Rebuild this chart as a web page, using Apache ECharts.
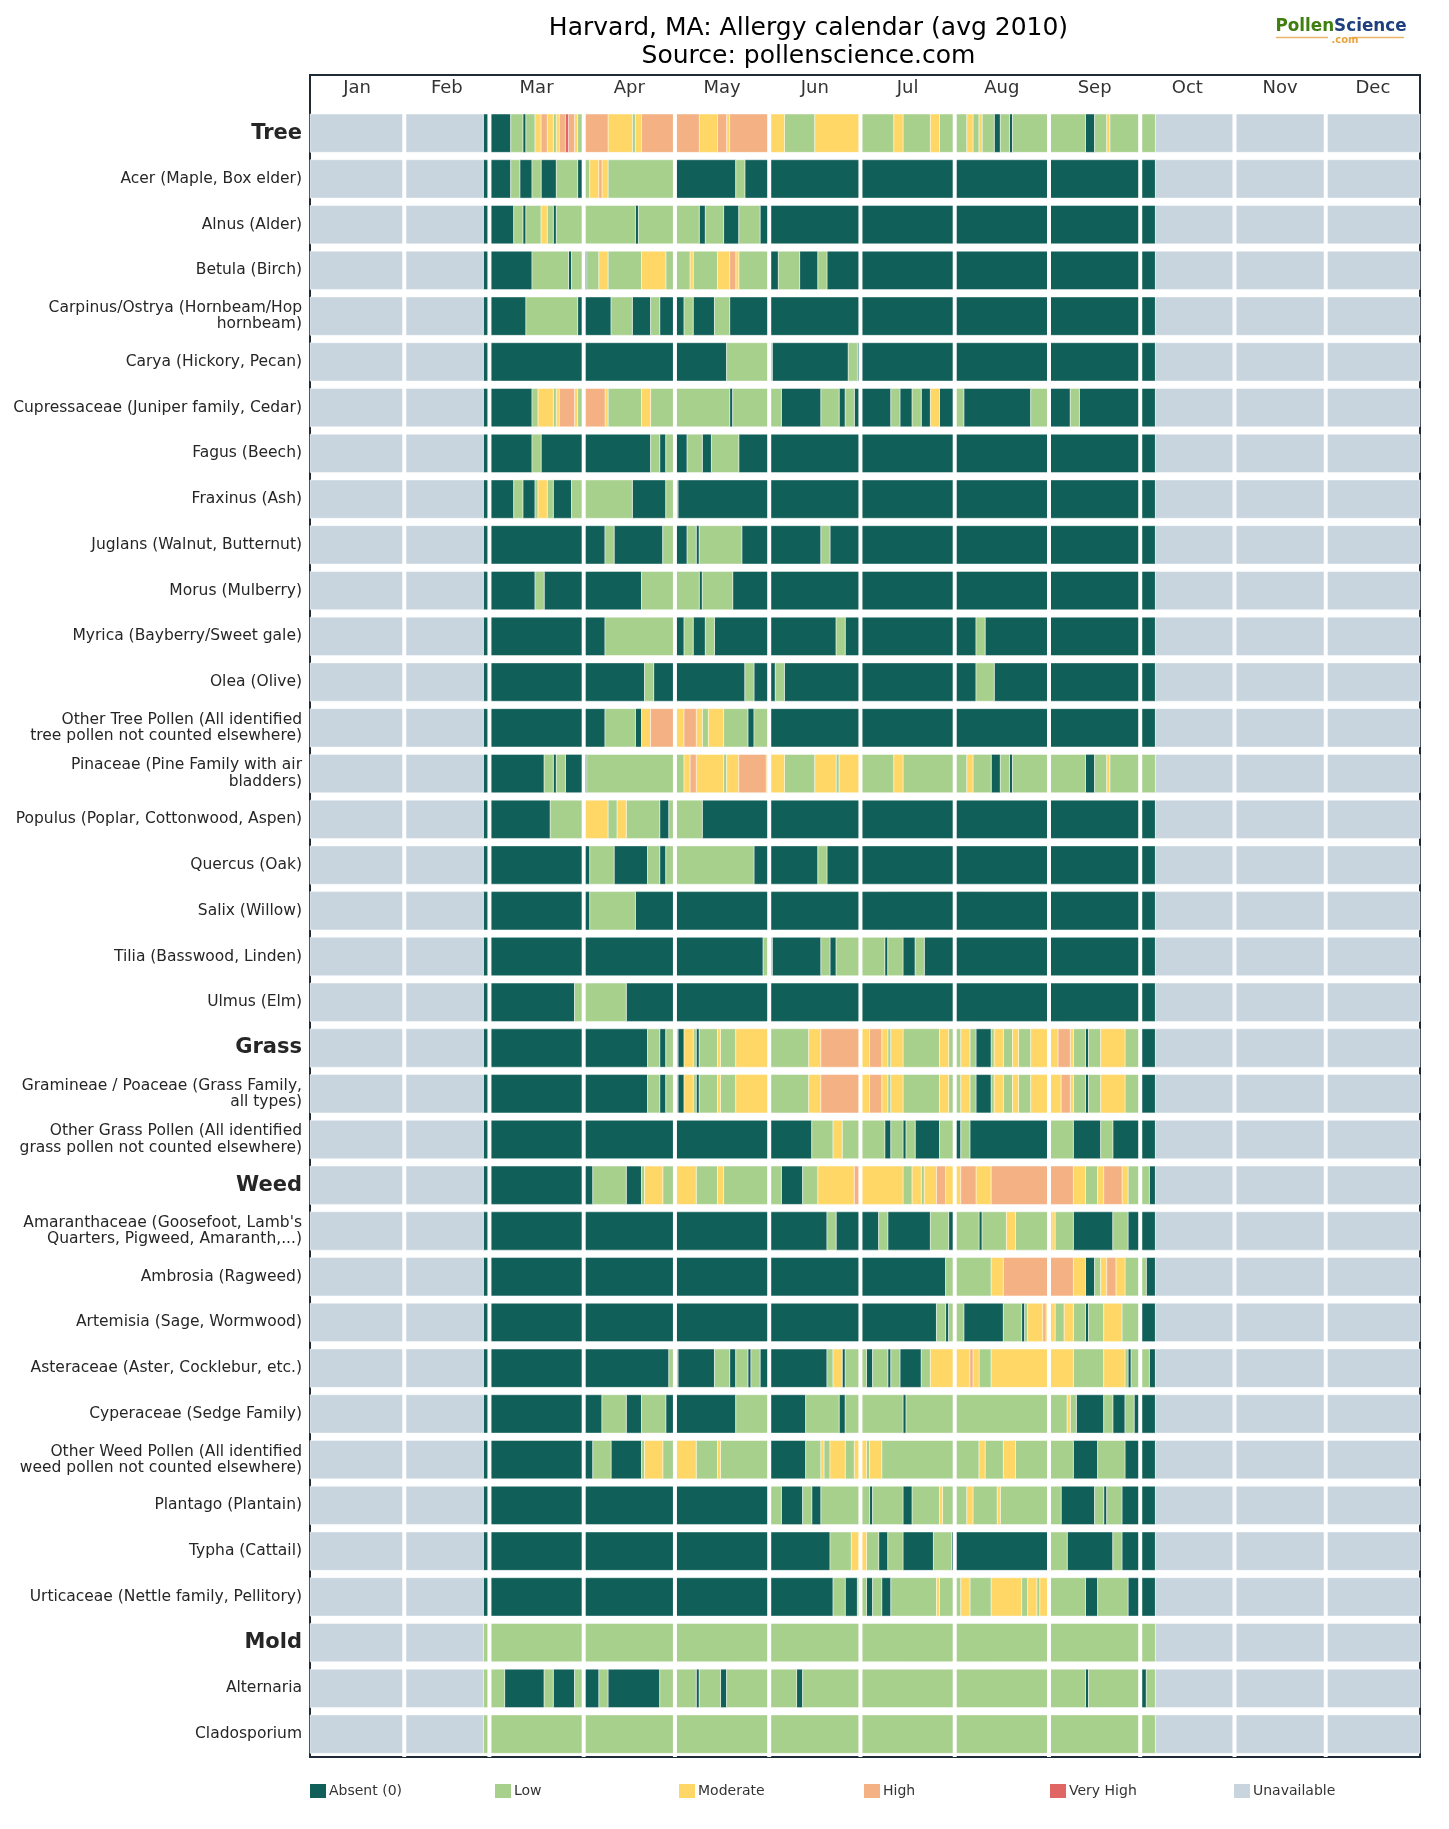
<!DOCTYPE html>
<html>
<head>
<meta charset="utf-8">
<title>Harvard, MA allergy calendar</title>
<style>html,body{margin:0;padding:0;background:#fff}#chart{width:1449px;height:1829px}</style>
<script src="https://cdn.jsdelivr.net/npm/echarts@6/dist/echarts.min.js"></script>
</head>
<body>
<div id="chart"></div>
<script>
// Calendar axis
const monthNames = ['Jan','Feb','Mar','Apr','May','Jun','Jul','Aug','Sep','Oct','Nov','Dec'];
const monthStarts = [0,31,59,90,120,151,181,212,243,273,304,334];
const yearDays = 365;

// Pollen levels
const levelNames = ['Absent (0)','Low','Moderate','High','Very High','Unavailable'];
const levelColors = ['#105F58','#A8D08D','#FFD766','#F4B183','#E06666','#C8D5DF'];
const UNAVAILABLE = 5;
const firstDay = 57;
const lastDay = 278;

// Each taxon: [day the level starts, level], runs until the next entry or lastDay
const tree = [[57,0],[66,1],[70,0],[71,1],[74,2],[76,3],[78,2],[80,1],[81,2],[82,3],[84,4],[85,3],[87,2],[88,1],[90,3],[98,2],[106,1],[107,2],[109,3],[128,2],[134,3],[137,2],[138,3],[151,2],[156,1],[166,2],[181,1],[192,2],[195,1],[204,2],[207,1],[216,2],[218,1],[220,2],[221,1],[225,0],[227,1],[230,0],[231,1],[255,0],[258,1],[262,2],[263,1]];
const acer = [[57,0],[66,1],[69,0],[73,1],[76,0],[81,1],[88,0],[90,1],[92,2],[95,3],[96,2],[98,1],[120,0],[140,1],[143,0]];
const alnus = [[57,0],[67,1],[70,0],[71,1],[76,2],[78,1],[80,0],[81,1],[107,0],[108,1],[128,0],[130,1],[136,0],[141,1],[148,0]];
const betula = [[57,0],[73,1],[85,0],[86,1],[90,0],[91,1],[95,2],[98,1],[109,2],[117,1],[125,2],[126,1],[134,2],[138,3],[140,2],[141,1],[151,0],[154,1],[161,0],[167,1],[170,0]];
const carpinus = [[57,0],[71,1],[88,0],[99,1],[106,0],[112,1],[115,0],[123,1],[126,0],[133,1],[138,0]];
const carya = [[57,0],[137,1],[152,0],[177,1],[180,0]];
const cupressaceae = [[57,0],[73,1],[75,2],[80,1],[81,2],[82,3],[87,2],[88,1],[90,3],[97,2],[98,1],[109,2],[112,1],[138,0],[139,1],[155,0],[168,1],[174,0],[176,1],[179,0],[191,1],[194,0],[198,1],[201,0],[204,2],[207,0],[212,1],[215,0],[237,1],[243,0],[250,1],[253,0]];
const fagus = [[57,0],[73,1],[76,0],[112,1],[115,0],[117,1],[120,0],[124,1],[129,0],[132,1],[141,0]];
const fraxinus = [[57,0],[67,1],[70,0],[74,1],[75,2],[78,1],[80,0],[86,1],[106,0],[117,1],[121,0]];
const juglans = [[57,0],[97,1],[100,0],[116,1],[120,0],[124,1],[127,0],[128,1],[142,0],[168,1],[171,0]];
const morus = [[57,0],[74,1],[77,0],[109,1],[128,0],[129,1],[139,0]];
const myrica = [[57,0],[97,1],[120,0],[123,1],[126,0],[130,1],[133,0],[173,1],[176,0],[219,1],[222,0]];
const olea = [[57,0],[110,1],[113,0],[143,1],[146,0],[153,1],[156,0],[219,1],[225,0]];
const otherTree = [[57,0],[97,1],[107,0],[109,2],[112,3],[120,2],[123,3],[127,2],[129,1],[131,2],[136,1],[144,0],[146,1],[151,0]];
const pinaceae = [[57,0],[77,1],[80,0],[81,1],[84,0],[91,1],[123,2],[125,3],[127,2],[136,1],[137,2],[141,3],[150,2],[156,1],[166,2],[173,1],[174,2],[181,1],[192,2],[195,1],[216,2],[218,1],[224,0],[227,1],[230,0],[231,1],[255,0],[258,1],[262,2],[263,1]];
const populus = [[57,0],[79,1],[90,2],[98,1],[101,2],[104,1],[115,0],[118,1],[129,0]];
const quercus = [[57,0],[92,1],[100,0],[111,1],[115,0],[117,1],[146,0],[167,1],[170,0]];
const salix = [[57,0],[92,1],[107,0]];
const tilia = [[57,0],[149,1],[152,0],[168,1],[171,0],[173,1],[189,0],[190,1],[195,0],[199,1],[202,0]];
const ulmus = [[57,0],[87,1],[104,0]];
const grass = [[57,0],[111,1],[115,0],[117,1],[121,0],[123,2],[126,1],[127,0],[128,1],[134,2],[135,1],[140,2],[151,1],[164,2],[168,3],[181,2],[184,3],[188,2],[190,1],[191,2],[195,1],[207,2],[210,1],[214,2],[217,1],[219,0],[224,1],[225,2],[228,1],[231,2],[233,1],[237,2],[246,3],[250,2],[251,1],[255,0],[256,1],[260,2],[268,1],[273,0]];
const gramineae = [[57,0],[111,1],[115,0],[117,1],[121,0],[123,2],[126,1],[127,0],[128,1],[134,2],[135,1],[140,2],[151,1],[164,2],[168,3],[181,2],[184,3],[188,2],[190,1],[191,2],[195,1],[207,2],[210,1],[214,2],[217,1],[219,0],[224,1],[225,2],[228,1],[231,2],[233,1],[237,2],[247,3],[250,2],[251,1],[255,0],[256,1],[260,2],[268,1],[273,0]];
const otherGrass = [[57,0],[165,1],[172,2],[175,1],[189,0],[191,1],[195,0],[196,1],[199,0],[207,1],[212,0],[214,1],[217,0],[243,1],[251,0],[260,1],[264,0]];
const weed = [[57,0],[93,1],[104,0],[109,1],[110,2],[116,1],[120,2],[127,1],[134,2],[136,1],[155,0],[162,1],[167,2],[179,3],[181,2],[195,1],[198,2],[201,1],[202,2],[206,3],[209,2],[214,3],[219,2],[224,3],[251,2],[255,1],[259,2],[261,3],[267,2],[269,1],[276,0]];
const amaranthaceae = [[57,0],[170,1],[173,0],[187,1],[190,0],[204,1],[210,0],[212,1],[220,0],[221,1],[229,2],[232,1],[244,2],[245,1],[251,0],[264,1],[269,0]];
const ambrosia = [[57,0],[209,1],[224,2],[228,3],[251,2],[255,0],[258,1],[260,2],[262,3],[265,2],[268,1],[275,0]];
const artemisia = [[57,0],[206,1],[209,0],[210,1],[215,0],[228,1],[234,0],[235,1],[236,2],[241,3],[242,2],[245,1],[248,2],[251,1],[255,0],[256,1],[261,2],[267,1],[273,0]];
const asteraceae = [[57,0],[118,1],[121,0],[133,1],[138,0],[140,1],[144,0],[145,1],[148,0],[170,1],[172,2],[175,0],[176,1],[183,0],[185,1],[190,0],[191,1],[194,0],[201,1],[204,2],[217,3],[218,2],[220,1],[224,2],[251,1],[261,2],[268,1],[269,0],[270,1],[276,0]];
const cyperaceae = [[57,0],[96,1],[104,0],[109,1],[117,0],[140,1],[151,0],[163,1],[174,0],[176,1],[195,0],[196,1],[249,2],[250,1],[252,0],[261,1],[264,0],[268,1],[271,0]];
const otherWeed = [[57,0],[93,1],[99,0],[109,1],[110,2],[116,1],[120,2],[127,1],[134,2],[135,1],[151,0],[163,1],[168,2],[169,1],[171,2],[176,1],[179,2],[183,1],[184,2],[188,1],[220,2],[222,1],[228,2],[232,1],[251,0],[259,1],[268,0]];
const plantago = [[57,0],[151,1],[155,0],[162,1],[165,0],[168,1],[184,0],[185,1],[195,0],[198,1],[207,2],[208,1],[216,2],[218,1],[226,2],[227,1],[247,0],[258,1],[261,0],[262,1],[267,0]];
const typha = [[57,0],[171,1],[178,2],[183,1],[187,0],[190,1],[195,0],[205,1],[211,0],[243,1],[249,0],[264,1],[267,0]];
const urticaceae = [[57,0],[172,1],[176,0],[180,1],[183,0],[185,1],[188,0],[191,1],[206,2],[207,1],[214,2],[217,1],[224,2],[234,1],[236,2],[239,1],[240,2],[243,1],[255,0],[259,1],[269,0]];
const mold = [[57,1]];
const alternaria = [[57,1],[64,0],[77,1],[80,0],[87,1],[90,0],[95,1],[98,0],[115,1],[127,0],[128,1],[135,0],[137,1],[160,0],[162,1],[255,0],[256,1],[273,0],[275,1]];
const cladosporium = [[57,1]];

// Row order, top to bottom; group rows are set in bold
const rowNames = [
  'Tree','Acer (Maple, Box elder)','Alnus (Alder)','Betula (Birch)',
  'Carpinus/Ostrya (Hornbeam/Hop\nhornbeam)','Carya (Hickory, Pecan)',
  'Cupressaceae (Juniper family, Cedar)','Fagus (Beech)','Fraxinus (Ash)',
  'Juglans (Walnut, Butternut)','Morus (Mulberry)','Myrica (Bayberry/Sweet gale)','Olea (Olive)',
  'Other Tree Pollen (All identified\ntree pollen not counted elsewhere)',
  'Pinaceae (Pine Family with air\nbladders)','Populus (Poplar, Cottonwood, Aspen)',
  'Quercus (Oak)','Salix (Willow)','Tilia (Basswood, Linden)','Ulmus (Elm)',
  'Grass','Gramineae / Poaceae (Grass Family,\nall types)',
  'Other Grass Pollen (All identified\ngrass pollen not counted elsewhere)',
  'Weed',"Amaranthaceae (Goosefoot, Lamb's\nQuarters, Pigweed, Amaranth,...)",
  'Ambrosia (Ragweed)','Artemisia (Sage, Wormwood)','Asteraceae (Aster, Cocklebur, etc.)',
  'Cyperaceae (Sedge Family)','Other Weed Pollen (All identified\nweed pollen not counted elsewhere)',
  'Plantago (Plantain)','Typha (Cattail)','Urticaceae (Nettle family, Pellitory)',
  'Mold','Alternaria','Cladosporium'
];
const groupRows = ['Tree','Grass','Weed','Mold'];
const rowRuns = [tree,acer,alnus,betula,carpinus,carya,cupressaceae,fagus,fraxinus,juglans,morus,myrica,olea,otherTree,pinaceae,populus,quercus,salix,tilia,ulmus,grass,gramineae,otherGrass,weed,amaranthaceae,ambrosia,artemisia,asteraceae,cyperaceae,otherWeed,plantago,typha,urticaceae,mold,alternaria,cladosporium];

// Turn the runs into [rowCentre, fromDay, toDay] items, one list per level
const segmentsByLevel = levelNames.map(() => []);
rowRuns.forEach((runs, row) => {
  const y = row + 0.5;
  segmentsByLevel[UNAVAILABLE].push([y, 0, firstDay], [y, lastDay, yearDays]);
  runs.forEach(([start, level], i) => {
    const end = i + 1 < runs.length ? runs[i + 1][0] : lastDay;
    segmentsByLevel[level].push([y, start, end]);
  });
});

const FONT = '"DejaVu Sans", sans-serif';
const CELL_SHARE = 0.838;

const renderSegment = color => (params, api) => {
  const y = api.value(0);
  const from = api.coord([api.value(1), y]);
  const to = api.coord([api.value(2), y]);
  const h = api.size([0, 1])[1] * CELL_SHARE;
  return {
    type: 'rect',
    shape: { x: from[0], y: from[1] - h / 2, width: to[0] - from[0], height: h },
    style: { fill: color, stroke: 'rgba(255,255,255,0.65)', lineWidth: 0.7 }
  };
};

// White rules that separate the months
const renderMonthRule = (params, api) => {
  const top = api.coord([api.value(0), 0]);
  const bottom = api.coord([api.value(0), rowNames.length]);
  return {
    type: 'rect',
    shape: { x: top[0] - 2, y: top[1], width: 4, height: bottom[1] - top[1] },
    style: { fill: '#fff' }
  };
};

const chart = echarts.init(document.getElementById('chart'), null, { renderer: 'canvas' });

const legendLefts = [310, 495, 679, 864, 1050, 1234];

chart.setOption({
  animation: false,
  backgroundColor: '#fff',
  title: [
    {
      text: 'Harvard, MA: Allergy calendar (avg 2010)\nSource: pollenscience.com',
      left: 803.5, top: 9, textAlign: 'center',
      textStyle: { fontFamily: FONT, fontSize: 25, fontWeight: 'normal', color: '#000', lineHeight: 28 }
    },
    {
      text: '{a|Pollen}{b|Science}',
      left: 1336, top: 13, textAlign: 'center',
      textStyle: {
        rich: {
          a: { fontFamily: FONT, fontSize: 16.8, fontWeight: 'bold', color: '#3F7F10' },
          b: { fontFamily: FONT, fontSize: 16.8, fontWeight: 'bold', color: '#1F3F7F' }
        }
      }
    },
    {
      text: '.com',
      left: 1340, top: 30, textAlign: 'center',
      textStyle: { fontFamily: FONT, fontSize: 10, fontWeight: 'bold', color: '#E8A33D' }
    }
  ],
  graphic: [
    { type: 'line', shape: { x1: 1276, y1: 37.5, x2: 1328, y2: 37.5 }, style: { stroke: '#EBB568', lineWidth: 1.5 } },
    { type: 'line', shape: { x1: 1352, y1: 37.5, x2: 1404, y2: 37.5 }, style: { stroke: '#EBB568', lineWidth: 1.5 } }
  ],
  legend: levelNames.map((name, i) => ({
    data: [name],
    left: legendLefts[i],
    top: 1784,
    padding: 0,
    icon: 'rect',
    itemWidth: 16,
    itemHeight: 14,
    itemGap: 0,
    selectedMode: false,
    textStyle: { fontFamily: FONT, fontSize: 14, color: '#333', padding: [0, 0, 0, -2] }
  })),
  grid: {
    left: 310, top: 75, width: 1110, height: 1682,
    show: true, borderColor: '#1F2A37', borderWidth: 2, backgroundColor: 'transparent'
  },
  xAxis: {
    type: 'value', position: 'top', min: 0, max: yearDays,
    axisLine: { show: false }, axisTick: { show: false }, splitLine: { show: false },
    axisLabel: {
      inside: true, margin: 4,
      customValues: monthNames.map((m, i) => (monthStarts[i] + (monthStarts[i + 1] || yearDays)) / 2),
      formatter: v => monthNames[monthStarts.filter(s => s <= v).length - 1],
      fontFamily: FONT, fontSize: 18, color: '#333'
    }
  },
  yAxis: {
    type: 'value', inverse: true, min: -0.772, max: rowNames.length,
    axisLine: { show: false }, axisTick: { show: false }, splitLine: { show: false },
    axisLabel: {
      margin: 8, align: 'right',
      customValues: rowNames.map((n, i) => i + 0.5),
      formatter: v => {
        const name = rowNames[Math.floor(v)];
        return groupRows.includes(name) ? '{group|' + name + '}' : name;
      },
      fontFamily: FONT, fontSize: 15.5, color: '#262626', lineHeight: 16.3,
      rich: { group: { fontFamily: FONT, fontSize: 21, fontWeight: 'bold', color: '#262626' } }
    }
  },
  series: levelNames.map((name, i) => ({
    name, type: 'custom', coordinateSystem: 'cartesian2d', clip: false,
    itemStyle: { color: levelColors[i] },
    encode: { y: 0, x: [1, 2] },
    data: segmentsByLevel[i],
    renderItem: renderSegment(levelColors[i])
  })).concat([{
    name: 'monthRules', type: 'custom', coordinateSystem: 'cartesian2d', z: 5, silent: true,
    encode: { x: 0 },
    data: monthStarts.slice(1).map(d => [d]),
    renderItem: renderMonthRule
  }])
});
</script>
</body>
</html>
